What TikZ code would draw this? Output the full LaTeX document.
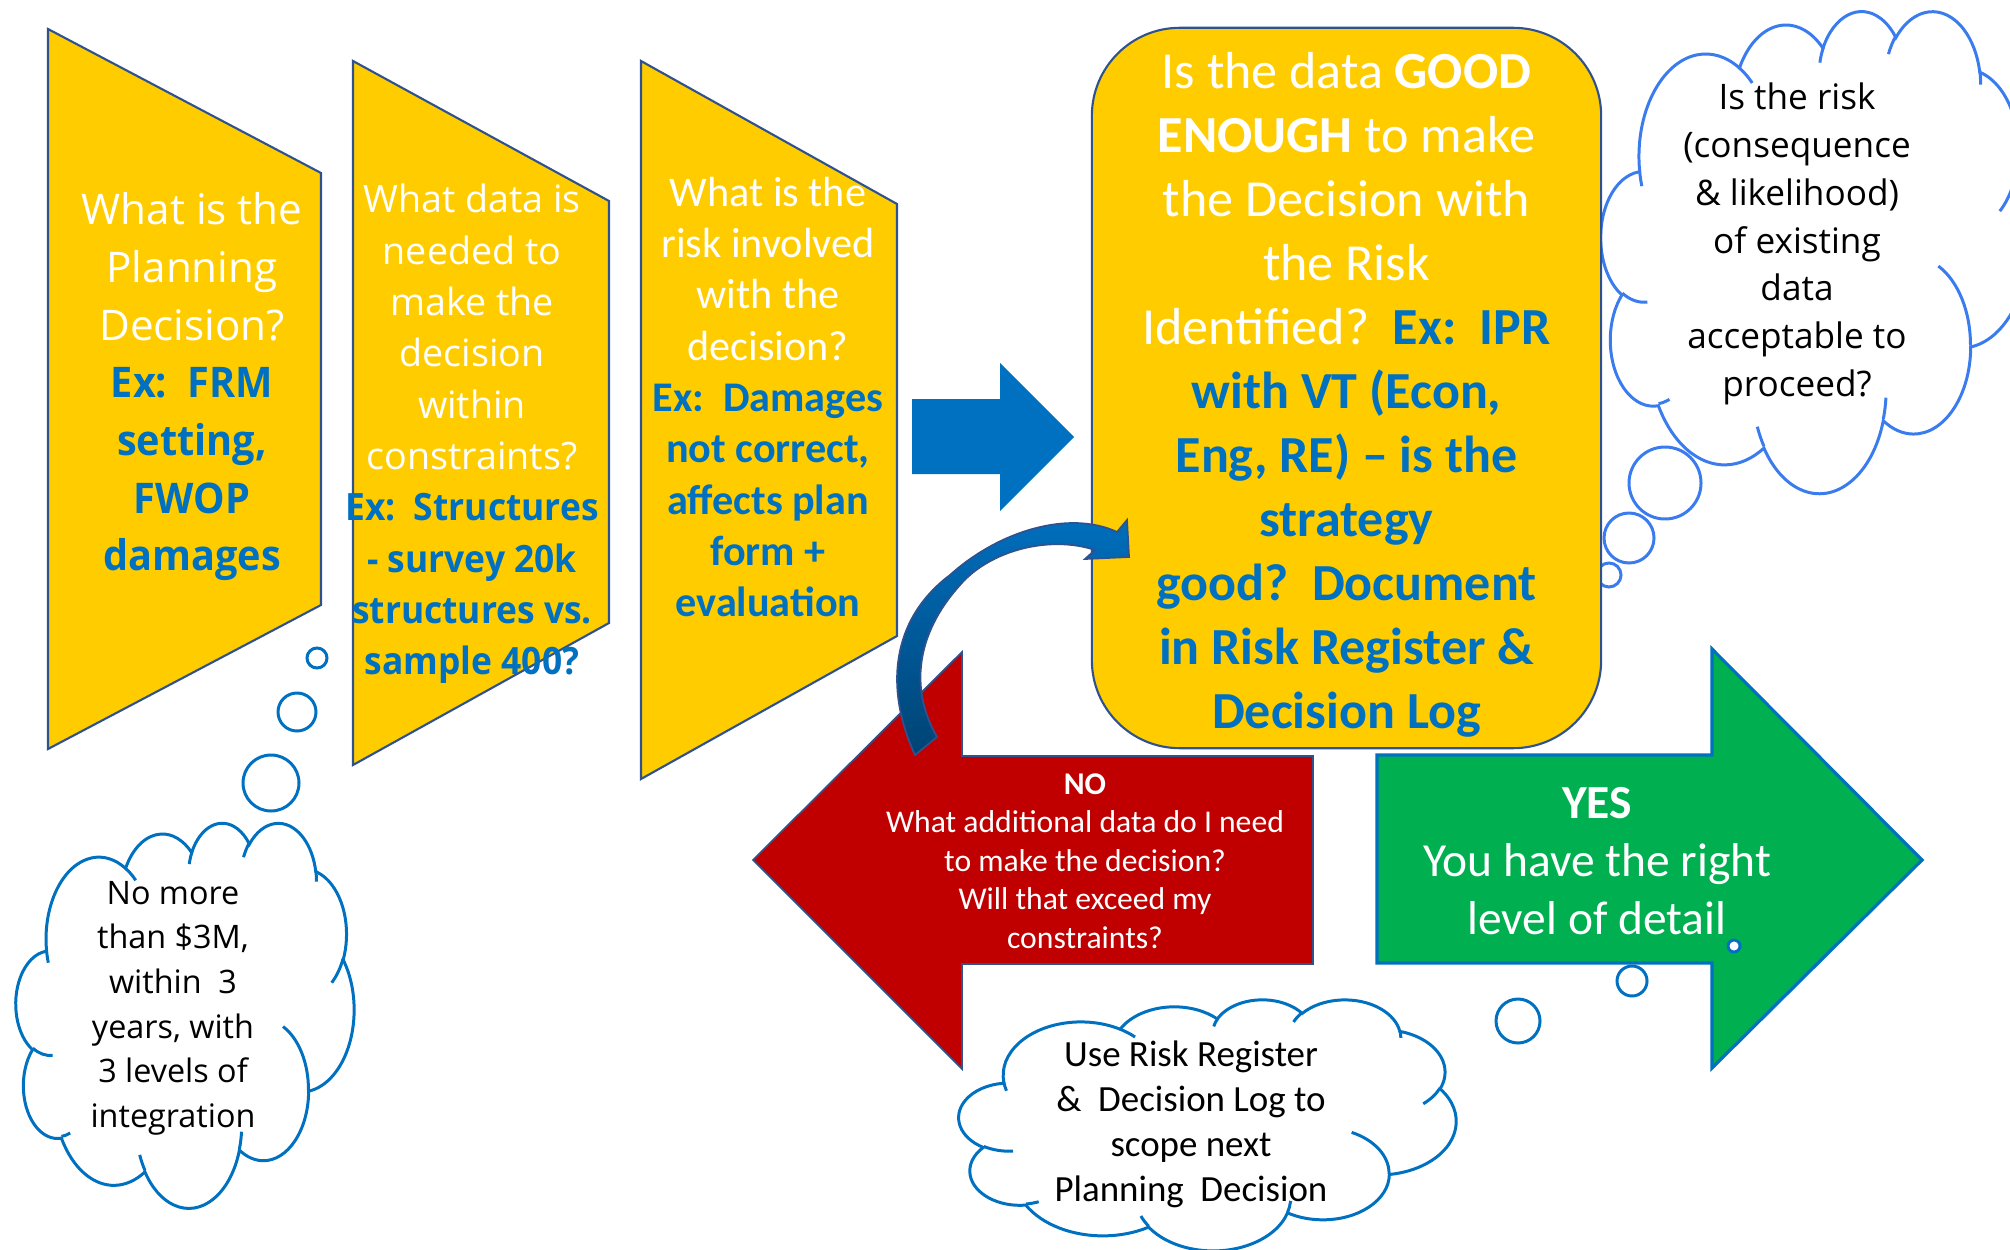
\documentclass[tikz,border=0pt]{standalone}
\usepackage{fontspec}
\setmainfont{Carlito}
\newfontfamily\opensans{Open Sans}[BoldFeatures={FakeStretch=0.94}]
\definecolor{qyellow}{HTML}{FFCC00}
\definecolor{exblue}{HTML}{0070C0}
\definecolor{edgeblue}{HTML}{2F528F}
\definecolor{nored}{HTML}{C00000}
\definecolor{yesgreen}{HTML}{00B050}
\definecolor{cloudblue}{HTML}{0070C0}
\definecolor{skyblue}{HTML}{3A7CEE}
\definecolor{arrowblue}{HTML}{0070C0}
% one elliptic arc of the cloud outline: x radius, y radius, start and sweep (visual angles)
\newcommand\cloudarc[4]{arc[start angle={atan2(#1*sin(#3),#2*cos(#3))},
  delta angle={mod(atan2(#1*sin(#3+#4),#2*cos(#3+#4))-atan2(#1*sin(#3),#2*cos(#3))+720,360)},
  x radius=#1, y radius=#2]}
\newcommand\exline[1]{{\color{exblue}\bfseries #1}}
\tikzset{
    qshape/.style = {fill=qyellow, draw=edgeblue, line width=0.6pt},
    qfont/.style = {align=center, text=white, inner sep=0pt},
    bubble/.style = {draw=#1, fill=white, line width=0.85pt},
    gate/.style = {rectangle, rounded corners=0.88cm, minimum width=5.09cm, minimum height=7.2cm,
                   fill=qyellow, draw=edgeblue, line width=0.6pt, align=center, text=white,
                   font=\fontsize{14.8}{18.2}\selectfont},
    noarrow/.style = {fill=nored, draw=edgeblue, line width=0.5pt},
    yesarrow/.style = {fill=yesgreen, draw=exblue, line width=0.9pt},
    pics/thought/.style = {code = {
      \draw[draw=#1, fill=white, line width=0.85pt] (3.9,14.37)
        \cloudarc{6.753}{9.19}{-190.487}{123.781}
        \cloudarc{5.333}{7.267}{-144.102}{89.945}
        \cloudarc{4.365}{5.945}{-145.808}{99.723}
        \cloudarc{4.857}{6.595}{-130.986}{117.242}
        \cloudarc{5.333}{7.273}{-78.709}{109.027}
        \cloudarc{6.775}{9.22}{-46.267}{130.269}
        \cloudarc{5.785}{7.867}{0.625}{114.033}
        \cloudarc{6.752}{9.215}{22.452}{115.173}
        \cloudarc{7.72}{10.543}{66.243}{75.711}
        \cloudarc{4.36}{5.918}{-274.942}{146.736}
        \cloudarc{4.345}{5.945}{-246.829}{152.519} -- cycle;
      % creases between the puffs
      \draw[draw=#1, line width=0.85pt]
        (4.693,26.177) \cloudarc{4.345}{5.945}{86.742}{26.43}
        (6.928,34.899) \cloudarc{4.36}{5.918}{73.61}{11.447}
        (16.478,39.09) \cloudarc{6.752}{9.215}{137.624}{14.081}
        (28.827,34.751) \cloudarc{6.752}{9.215}{6.453}{15.998}
        (34.129,22.954) \cloudarc{5.785}{7.867}{-70.292}{70.917}
        (41.798,15.354) \cloudarc{5.333}{7.273}{30.318}{27.752}
        (38.324,5.426) \cloudarc{4.857}{6.595}{-13.744}{14.859}
        (29.078,3.952) \cloudarc{4.857}{6.595}{-149.181}{18.195}
        (22.141,4.72) \cloudarc{4.365}{5.945}{-163.494}{17.686}
        (14.0,5.192) \cloudarc{6.753}{9.19}{-66.707}{12.319}
        (4.127,15.789) \cloudarc{6.753}{9.19}{157.654}{11.858};
    }}
}
\begin{document}
\begin{tikzpicture}[x=0.01cm, y=-0.01cm]
\useasboundingbox (0,0) rectangle (2010,1249);
%
% thought clouds and their bubbles
\draw[bubble=cloudblue] (317,658) circle[radius=10];
\draw[bubble=cloudblue] (297,712) circle[radius=19];
\draw[bubble=cloudblue] (271,783) circle[radius=28];
\pic[xscale=7.824, yscale=8.912] at (16,822) {thought=cloudblue};
\draw[bubble=skyblue] (1665,483) circle[radius=36];
\draw[bubble=skyblue] (1629,538) circle[radius=25];
\draw[bubble=skyblue] (1609,575) circle[radius=12];
\pic[xscale=9.884, yscale=11.157] at (1601,10) {thought=skyblue};
\pic[xscale=11.505, yscale=5.81] at (959,999) {thought=cloudblue};
%
% the three question panels
\draw[qshape] (48,29) -- (321,173) -- (321,605) -- (48,749) -- cycle;
\draw[qshape] (353,61) -- (609,201) -- (609,623) -- (353,765) -- cycle;
\draw[qshape] (641,61) -- (897,204) -- (897,636) -- (641,779) -- cycle;
\fill[arrowblue] (912,399) -- (1000,399) -- (1000,363) -- (1074,437) -- (1000,511) -- (1000,474) -- (912,474) -- cycle;
%
\node[gate] (gate) at (1346.5,388) {};
\node[qfont, font=\fontsize{14.8}{18.2}\selectfont] (gatetext) at (1346.5,395) {Is the data \textbf{GOOD}\\\textbf{ENOUGH} to make\\the Decision with\\the Risk\\Identified?\ \ \exline{Ex:\ \ IPR}\\\exline{with VT (Econ,}\\\exline{Eng, RE) -- is the}\\\exline{strategy}\\\exline{good?\ \ Document}\\\exline{in Risk Register \&}\\\exline{Decision Log}};
%
% no / yes arrows
\draw[noarrow] (1313,756) -- (962,756) -- (962,652) -- (753,860) -- (962,1069) -- (962,964) -- (1313,964) -- cycle;
\draw[yesarrow] (1377,755) -- (1712,755) -- (1712,649) -- (1922,860) -- (1712,1068) -- (1712,963) -- (1377,963) -- cycle;
\draw[bubble=cloudblue] (1734,946) circle[radius=6];
\draw[bubble=cloudblue] (1632,981) circle[radius=15];
\draw[bubble=cloudblue] (1518,1021) circle[radius=22];
%
% loop back into the decision box
\draw[edgeblue, line width=0.5pt, top color=arrowblue, bottom color=arrowblue!60!black]
  (937,737) -- (915,755) .. controls (885,690) and (890,620) .. (950,575)
  .. controls (1000,530) and (1070,510) .. (1117,532) -- (1127,520) -- (1129,557) -- (1085,559) -- (1095,550)
  .. controls (1050,535) and (990,550) .. (960,585) .. controls (915,635) and (910,690) .. (937,737) -- cycle;
%
\node[qfont, font=\opensans\fontsize{12}{16.4}\selectfont] (plan) at (192,387) {What is the\\Planning\\Decision?\\\exline{Ex:\ \ FRM}\\\exline{setting,}\\\exline{FWOP}\\\exline{damages}};
\node[qfont, font=\opensans\fontsize{10.7}{14.6}\selectfont] (data) at (472,434) {What data is\\needed to\\make the\\decision\\within\\constraints?\\\exline{Ex:\ \ Structures}\\\exline{- survey 20k}\\\exline{structures vs.}\\\exline{sample 400?}};
\node[qfont, font=\fontsize{12}{14.6}\selectfont] (risk) at (768,397) {What is the\\risk involved\\with the\\decision?\\\exline{Ex:\ \ Damages}\\\exline{not correct,}\\\exline{affects plan}\\\exline{form +}\\\exline{evaluation}};
\node[qfont, font=\fontsize{9}{10.95}\selectfont] (no) at (1085,861) {\textbf{NO}\\What additional data do I need\\to make the decision?\\Will that exceed my\\constraints?};
\node[qfont, font=\fontsize{13.5}{16.4}\selectfont] (yes) at (1597,861) {\textbf{YES}\\You have the right\\level of detail};
%
\node[qfont, text=black, font=\opensans\fontsize{9.2}{12.7}\selectfont] (budget) at (173,1008) {No more\\than \$3M,\\within\ \ 3\\years, with\\3 levels of\\integration};
\node[qfont, text=black, font=\opensans\fontsize{10}{13.6}\selectfont] (accept) at (1797,244) {Is the risk\\(consequence\\\& likelihood)\\of existing\\data\\acceptable to\\proceed?};
\node[qfont, text=black, font=\fontsize{10.5}{12.8}\selectfont] (scope) at (1191,1124) {Use Risk Register\\\&\ \ Decision Log to\\scope next\\Planning\ \ Decision};
\end{tikzpicture}
\end{document}
